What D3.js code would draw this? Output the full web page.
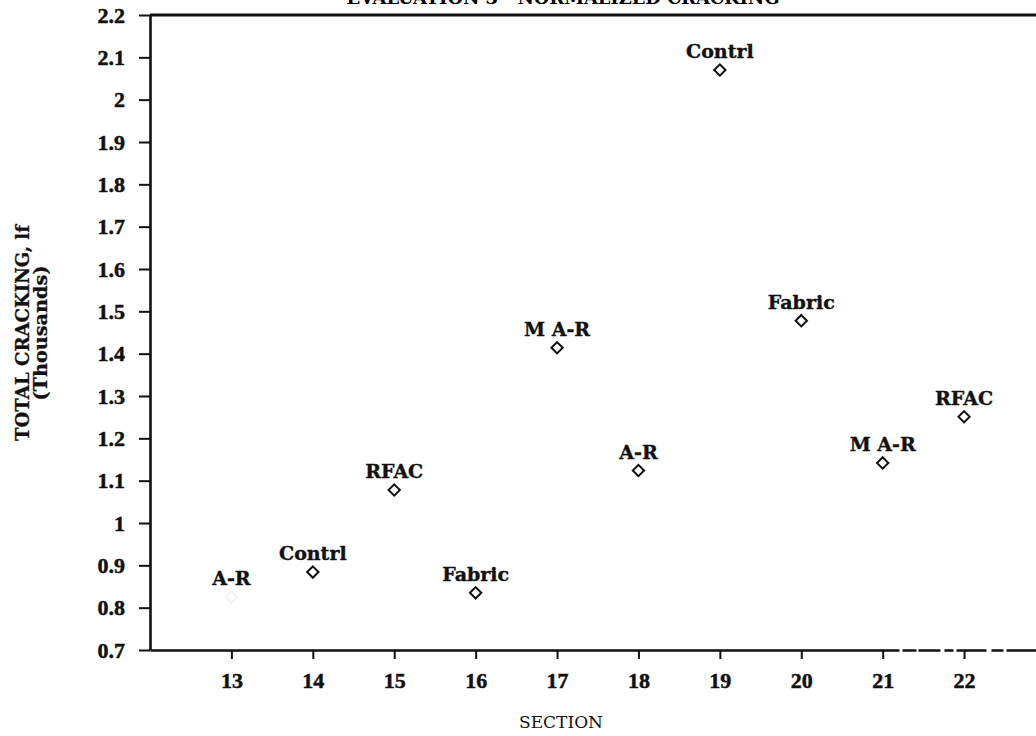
<!DOCTYPE html>
<html>
<head>
<meta charset="utf-8">
<script src="https://cdn.jsdelivr.net/npm/d3@7"></script>
<style>
	body { margin: 0; background: #fff; }
	svg { display: block; }
	.tick-label { font-family: "Liberation Serif", serif; font-weight: bold; font-size: 22px; fill: #111; stroke: #111; stroke-width: 0.5px; }
	.point-label { font-family: "DejaVu Serif", serif; font-weight: bold; font-size: 19px; fill: #111; stroke: #111; stroke-width: 0.4px; }
</style>
</head>
<body>
<svg width="1036" height="736"></svg>
<script>
/* DATA */
var sections = [13, 14, 15, 16, 17, 18, 19, 20, 21, 22];
var cracking = [0.825, 0.884, 1.078, 0.835, 1.414, 1.124, 2.07, 1.478, 1.142, 1.251];
var treatments = ["A-R", "Contrl", "RFAC", "Fabric", "M A-R", "A-R", "Contrl", "Fabric", "M A-R", "RFAC"];
var yTicks = [0.7, 0.8, 0.9, 1, 1.1, 1.2, 1.3, 1.4, 1.5, 1.6, 1.7, 1.8, 1.9, 2, 2.1, 2.2];

var points = sections.map(function (s, i) {
	return { section: s, value: cracking[i], name: treatments[i] };
});

/* SVG */
var svg = d3.select("svg");
svg.append("rect").attr("width", 1036).attr("height", 736).attr("fill", "#fff");

/* SCALES */
var x = d3.scaleLinear().domain([12, 23]).range([150, 1045.5]);
var y = d3.scaleLinear().domain([0.7, 2.2]).range([650, 15]);

/* AXES */
var yAxis = svg
	.append("g")
	.attr("transform", "translate(150,0)")
	.call(
		d3.axisLeft(y)
			.tickValues(yTicks)
			.tickSize(11)
			.tickSizeOuter(0)
			.tickPadding(14)
			.tickFormat(function (d) {
				return String(+d.toFixed(1));
			})
	);

var xAxis = svg
	.append("g")
	.attr("transform", "translate(0,650)")
	.call(d3.axisBottom(x).tickValues(sections).tickSize(9).tickSizeOuter(0).tickPadding(13));

[yAxis, xAxis].forEach(function (ax) {
	ax.select(".domain").attr("stroke", "#111").attr("stroke-width", 2.6);
	ax.selectAll(".tick line").attr("stroke", "#111").attr("stroke-width", 2);
	ax.selectAll(".tick text").attr("class", "tick-label").attr("fill", "#111");
});

// the scanned x axis breaks up a little past section 21
xAxis
	.select(".domain")
	.attr("stroke-dasharray", function () {
		var solid = x(21.2) - x(12);
		return `${solid} 3 14 2 22 4 9 3 30 5 12 3 40`;
	});

// top frame line
svg
	.append("line")
	.attr("x1", x(12))
	.attr("x2", x(23))
	.attr("y1", y(2.2))
	.attr("y2", y(2.2))
	.attr("stroke", "#111")
	.attr("stroke-width", 2.8);

/* TITLES */
svg
	.append("text")
	.attr("x", 563)
	.attr("y", 4)
	.attr("text-anchor", "middle")
	.attr("textLength", 433)
	.attr("lengthAdjust", "spacing")
	.style("font-family", "DejaVu Serif")
	.style("font-weight", "bold")
	.style("font-size", "18px")
	.text("EVALUATION 3 - NORMALIZED CRACKING");

svg
	.append("text")
	.attr("x", 561)
	.attr("y", 728)
	.attr("text-anchor", "middle")
	.style("font-family", "DejaVu Serif")
	.style("font-size", "17px")
	.attr("fill", "#111")
	.text("SECTION");

var yTitle = svg
	.append("g")
	.attr("transform", "translate(0,333) rotate(-90)")
	.style("font-family", "DejaVu Serif")
	.style("font-weight", "bold")
	.style("font-size", "19px")
	.attr("fill", "#111")
	.attr("stroke", "#111")
	.attr("stroke-width", 0.3)
	.attr("text-anchor", "middle");
yTitle.append("text").attr("x", 0).attr("y", 29).attr("textLength", 216).attr("lengthAdjust", "spacingAndGlyphs").text("TOTAL CRACKING, lf");
yTitle.append("text").attr("x", 0).attr("y", 47).attr("textLength", 135).attr("lengthAdjust", "spacingAndGlyphs").text("(Thousands)");

/* POINTS */
var node = svg
	.append("g")
	.selectAll("g")
	.data(points)
	.enter()
	.append("g")
	.attr("transform", function (d) {
		return `translate(${x(d.section)}, ${y(d.value)})`;
	});

node
	.append("path")
	.attr("d", d3.symbol(d3.symbolSquare, 64))
	.attr("transform", "rotate(45)")
	.attr("fill", "#fff")
	.attr("stroke", "#111")
	.attr("stroke-width", 2)
	.attr("stroke-opacity", function (d) {
		// the first marker is almost lost in the scan
		return d.section === 13 ? 0.06 : 1;
	});

node
	.append("text")
	.attr("class", "point-label")
	.attr("text-anchor", "middle")
	.attr("y", -12)
	.text(function (d) {
		return d.name;
	});
</script>
</body>
</html>
